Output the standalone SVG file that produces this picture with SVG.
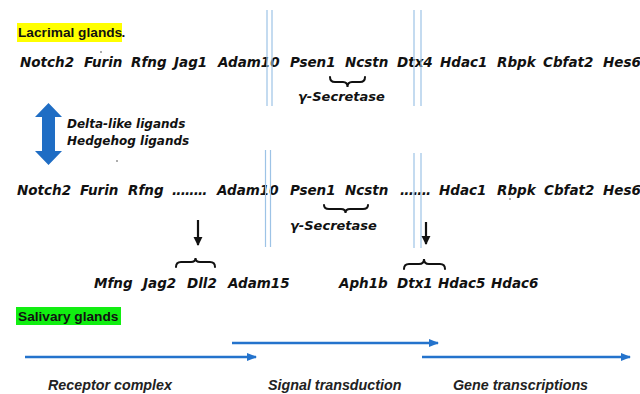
<svg xmlns="http://www.w3.org/2000/svg" width="640" height="394" viewBox="0 0 640 394">
<style>
.g{font-family:"DejaVu Sans",Verdana,sans-serif;font-weight:bold;font-style:italic;font-size:13.5px;fill:#111}
.s{font-family:"DejaVu Sans",Verdana,sans-serif;font-weight:bold;font-style:italic;font-size:13px;fill:#111}
.l{font-family:"DejaVu Sans",Verdana,sans-serif;font-weight:bold;font-style:italic;font-size:12px;fill:#111}
.h{font-family:"Liberation Sans",Arial,sans-serif;font-weight:bold;font-size:13.7px;fill:#111}
.b{font-family:"Liberation Sans",Arial,sans-serif;font-weight:bold;font-style:italic;font-size:14.3px;fill:#222}
.dt{letter-spacing:-0.8px}
.vl{stroke:#9dc3e6;stroke-width:1.2;fill:none}
.br{stroke:#111;stroke-width:2;fill:none;stroke-linecap:round}
.ba{stroke:#2473cc;stroke-width:2.5;fill:none}
.dn{stroke:#111;stroke-width:2.2;fill:none}
.sp{fill:#444}
</style>
<defs>
<marker id="bh" viewBox="0 0 10 10" refX="9" refY="5" markerWidth="4" markerHeight="4" orient="auto" markerUnits="strokeWidth"><path d="M0,1 L10,5 L0,9 Z" fill="#2473cc"/></marker>
<marker id="kh" viewBox="0 0 10 10" refX="9" refY="5" markerWidth="4.2" markerHeight="4.2" orient="auto" markerUnits="strokeWidth"><path d="M0,0 L10,5 L0,10 Z" fill="#111"/></marker>
</defs>
<rect width="640" height="394" fill="#fff"/>

<g id="lacrimal">
<rect x="17" y="23" width="105" height="19" fill="#ffff00"/>
<text class="h" x="18" y="37">Lacrimal glands</text>
<text class="h" x="121.5" y="37">.</text>
</g>

<g id="row1">
<text class="g" y="67"><tspan x="20">Notch2</tspan><tspan x="84">Furin</tspan><tspan x="131">Rfng</tspan><tspan x="174">Jag1</tspan><tspan x="218">Adam10</tspan><tspan x="290">Psen1</tspan><tspan x="345">Ncstn</tspan><tspan x="397">Dtx4</tspan><tspan x="440">Hdac1</tspan><tspan x="497">Rbpk</tspan><tspan x="543">Cbfat2</tspan><tspan x="603">Hes6</tspan></text>
</g>
<g id="gs1"><text class="s" x="298" y="101">γ-Secretase</text></g>

<g id="ligands">
<polygon points="48.5,103 62,117 55,117 55,151 62,151 48.5,165 35,151 42,151 42,117 35,117" fill="#1f6dc4"/>
<text class="l" x="67" y="128">Delta-like ligands</text>
<text class="l" x="67" y="145">Hedgehog ligands</text>
</g>

<g id="row2">
<text class="g" y="195"><tspan x="17">Notch2</tspan><tspan x="80">Furin</tspan><tspan x="128">Rfng</tspan><tspan x="172" class="dt">........</tspan><tspan x="217">Adam10</tspan><tspan x="290">Psen1</tspan><tspan x="345">Ncstn</tspan><tspan x="400" class="dt">.......</tspan><tspan x="439">Hdac1</tspan><tspan x="497">Rbpk</tspan><tspan x="544">Cbfat2</tspan><tspan x="603">Hes6</tspan></text>
</g>
<g id="gs2"><text class="s" x="290" y="230">γ-Secretase</text></g>

<g id="row3">
<text class="g" y="288"><tspan x="94">Mfng</tspan><tspan x="143">Jag2</tspan><tspan x="187">Dll2</tspan><tspan x="228">Adam15</tspan><tspan x="339">Aph1b</tspan><tspan x="397">Dtx1</tspan><tspan x="438">Hdac5</tspan><tspan x="491">Hdac6</tspan></text>
</g>

<g id="salivary">
<rect x="16" y="307" width="105" height="18" fill="#11ee11"/>
<text class="h" x="18" y="320.5">Salivary glands</text>
</g>

<g id="stages">
<text class="b" x="48" y="390">Receptor complex</text>
<text class="b" x="268" y="390">Signal transduction</text>
<text class="b" x="453" y="390">Gene transcriptions</text>
</g>

<g id="specks">
<circle class="sp" cx="101" cy="52" r="0.8"/>
<circle class="sp" cx="117" cy="161" r="0.8"/>
<circle class="sp" cx="510" cy="199" r="0.8"/>
</g>

<g id="connectors">
<line class="vl" x1="267" y1="10" x2="267" y2="106"/>
<line class="vl" x1="272" y1="10" x2="272" y2="106"/>
<line class="vl" x1="414" y1="10" x2="414" y2="106"/>
<line class="vl" x1="421" y1="10" x2="421" y2="106"/>
<line class="vl" x1="265.5" y1="150" x2="265.5" y2="247"/>
<line class="vl" x1="270.5" y1="150" x2="270.5" y2="247"/>
<line class="vl" x1="414" y1="153" x2="414" y2="248"/>
<line class="vl" x1="421" y1="153" x2="421" y2="248"/>

<path class="br" d="M330,77 Q330,82 335,82 L343,82 Q347.5,82 347.5,87 Q347.5,82 352,82 L360,82 Q365,82 365,77"/>
<path class="br" d="M324,205 Q324,209 329,209 L341,209 Q345.5,209 345.5,213 Q345.5,209 350,209 L363,209 Q368,209 368,205"/>
<path class="br" d="M176,267 Q176,262 181,262 L191,262 Q195.5,262 195.5,258 Q195.5,262 200,262 L210,262 Q215,262 215,267"/>
<path class="br" d="M404,269 Q404,264 409,264 L419,264 Q424,264 424,259 Q424,264 429,264 L440,264 Q445,264 445,269"/>

<line class="dn" x1="198" y1="220" x2="198" y2="245" marker-end="url(#kh)"/>
<line class="dn" x1="426" y1="222" x2="426" y2="244" marker-end="url(#kh)"/>

<line class="ba" x1="25" y1="357" x2="256" y2="357" marker-end="url(#bh)"/>
<line class="ba" x1="232" y1="343" x2="438" y2="343" marker-end="url(#bh)"/>
<line class="ba" x1="422" y1="357" x2="630" y2="357" marker-end="url(#bh)"/>
</g>
</svg>
